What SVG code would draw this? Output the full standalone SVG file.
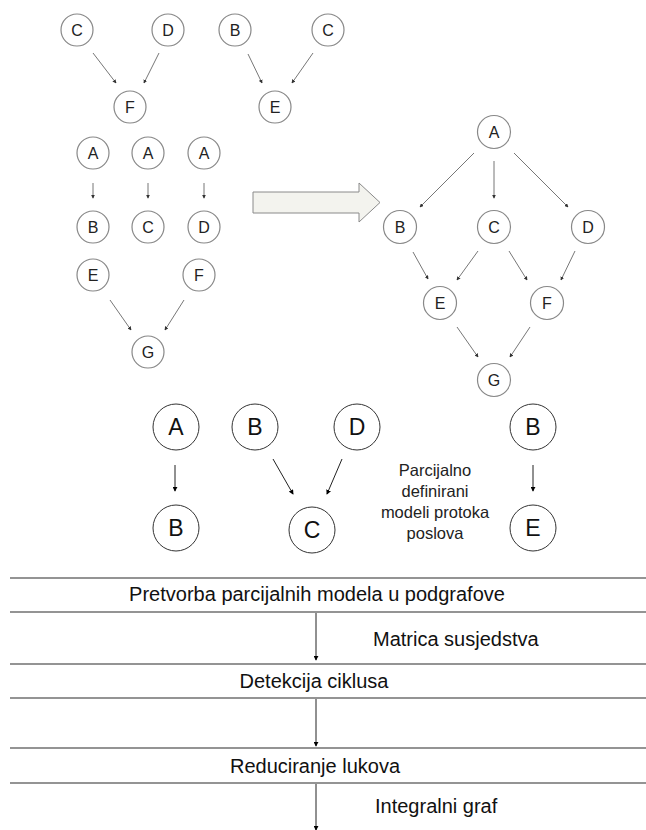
<svg xmlns="http://www.w3.org/2000/svg" width="646" height="830" viewBox="0 0 646 830">
<defs>
<marker id="ah" viewBox="0 0 6 6" refX="5" refY="3" markerWidth="4" markerHeight="4" markerUnits="userSpaceOnUse" orient="auto">
<path d="M0,0 L6,3 L0,6 z" fill="#333"/>
</marker>
<marker id="ahb" viewBox="0 0 6 6" refX="5" refY="3" markerWidth="5" markerHeight="5" markerUnits="userSpaceOnUse" orient="auto">
<path d="M0,0 L6,3 L0,6 z" fill="#000"/>
</marker>
</defs>
<style>
text{font-family:"Liberation Sans",Arial,sans-serif;fill:#222}
.n circle{fill:#fff;stroke:#888;stroke-width:1.2}
.n text{font-size:16px;text-anchor:middle}
.b circle{fill:#fff;stroke:#333;stroke-width:1}
.b text{font-size:23px;text-anchor:middle;fill:#111}
.e line{stroke:#777;stroke-width:1;marker-end:url(#ah)}
.eb line{stroke:#222;stroke-width:1;marker-end:url(#ahb)}
.hl{stroke:#707070;stroke-width:1.6}
.lbl{font-size:20px;fill:#111}
</style>
<rect width="646" height="830" fill="#fff"/>

<!-- top-left partial graphs -->
<g id="t1c" class="n"><circle cx="77" cy="30" r="16"/><text x="77" y="36">C</text></g>
<g id="t1d" class="n"><circle cx="168" cy="30" r="16"/><text x="168" y="36">D</text></g>
<g id="t1f" class="n"><circle cx="130" cy="107" r="16"/><text x="130" y="113">F</text></g>
<g id="t2b" class="n"><circle cx="235" cy="30" r="16"/><text x="235" y="36">B</text></g>
<g id="t2c" class="n"><circle cx="328" cy="30" r="16"/><text x="328" y="36">C</text></g>
<g id="t2e" class="n"><circle cx="275" cy="107" r="16"/><text x="275" y="113">E</text></g>

<g id="m1a" class="n"><circle cx="93" cy="153" r="16"/><text x="93" y="159">A</text></g>
<g id="m2a" class="n"><circle cx="148" cy="153" r="16"/><text x="148" y="159">A</text></g>
<g id="m3a" class="n"><circle cx="204" cy="153" r="16"/><text x="204" y="159">A</text></g>
<g id="m1b" class="n"><circle cx="93" cy="227" r="16"/><text x="93" y="233">B</text></g>
<g id="m2c" class="n"><circle cx="148" cy="227" r="16"/><text x="148" y="233">C</text></g>
<g id="m3d" class="n"><circle cx="204" cy="227" r="16"/><text x="204" y="233">D</text></g>
<g id="m4e" class="n"><circle cx="93" cy="275" r="16"/><text x="93" y="281">E</text></g>
<g id="m4f" class="n"><circle cx="199" cy="275" r="16"/><text x="199" y="281">F</text></g>
<g id="m4g" class="n"><circle cx="148" cy="352" r="16"/><text x="148" y="358">G</text></g>

<!-- big block arrow -->
<g id="bigArrow">
<path d="M253,192 L359,192 L359,183 L380,202.5 L359,222 L359,213 L253,213 Z" fill="#f3f3ee" stroke="#8a8a8a" stroke-width="1"/>
</g>

<!-- integrated graph -->
<g id="ia" class="n"><circle cx="494" cy="132" r="16.5"/><text x="494" y="138">A</text></g>
<g id="ib" class="n"><circle cx="400" cy="227" r="16.5"/><text x="400" y="233">B</text></g>
<g id="ic" class="n"><circle cx="494" cy="227" r="16.5"/><text x="494" y="233">C</text></g>
<g id="id" class="n"><circle cx="588" cy="227" r="16.5"/><text x="588" y="233">D</text></g>
<g id="ie" class="n"><circle cx="440" cy="303" r="16.5"/><text x="440" y="309">E</text></g>
<g id="if" class="n"><circle cx="547" cy="303" r="16.5"/><text x="547" y="309">F</text></g>
<g id="ig" class="n"><circle cx="494" cy="380" r="16.5"/><text x="494" y="386">G</text></g>

<!-- bottom partial models -->
<g id="pa" class="b"><circle cx="176" cy="427" r="23"/><text x="176" y="435">A</text></g>
<g id="pb1" class="b"><circle cx="176" cy="528" r="23"/><text x="176" y="536">B</text></g>
<g id="pb2" class="b"><circle cx="255" cy="427" r="23"/><text x="255" y="435">B</text></g>
<g id="pd" class="b"><circle cx="357" cy="427" r="23"/><text x="357" y="435">D</text></g>
<g id="pc" class="b"><circle cx="312" cy="530" r="23"/><text x="312" y="538">C</text></g>
<g id="pb3" class="b"><circle cx="533" cy="427" r="23"/><text x="533" y="435">B</text></g>
<g id="pe" class="b"><circle cx="533" cy="528" r="23"/><text x="533" y="536">E</text></g>

<g id="partialLabel" font-size="16.5" text-anchor="middle">
<text x="435" y="476">Parcijalno</text>
<text x="435" y="497">definirani</text>
<text x="435" y="518">modeli protoka</text>
<text x="435" y="539">poslova</text>
</g>

<!-- connectors -->
<g id="connectors">
<g class="e">
<line x1="93" y1="53" x2="116" y2="83"/>
<line x1="159" y1="53" x2="144" y2="83"/>
<line x1="248" y1="54" x2="262" y2="83"/>
<line x1="313" y1="53" x2="292" y2="83"/>
<line x1="93" y1="183" x2="93" y2="198"/>
<line x1="148" y1="183" x2="148" y2="198"/>
<line x1="204" y1="183" x2="204" y2="198"/>
<line x1="110" y1="300" x2="131" y2="330"/>
<line x1="184" y1="300" x2="165" y2="330"/>
<line x1="474" y1="153" x2="420" y2="207"/>
<line x1="494" y1="161" x2="494" y2="198"/>
<line x1="514" y1="153" x2="568" y2="207"/>
<line x1="413" y1="252" x2="428" y2="279"/>
<line x1="478" y1="251" x2="457" y2="280"/>
<line x1="509" y1="251" x2="527" y2="280"/>
<line x1="575" y1="251" x2="561" y2="280"/>
<line x1="457" y1="327" x2="478" y2="357"/>
<line x1="530" y1="327" x2="510" y2="357"/>
</g>
<g class="eb">
<line x1="175" y1="465" x2="175" y2="491"/>
<line x1="273" y1="459" x2="293" y2="494"/>
<line x1="342" y1="459" x2="327" y2="494"/>
<line x1="533" y1="465" x2="533" y2="491"/>
<line x1="316" y1="613" x2="316" y2="660"/>
<line x1="316" y1="699" x2="316" y2="746"/>
<line x1="316" y1="784" x2="316" y2="830"/>
</g>
</g>

<!-- process steps -->
<g id="steps">
<line class="hl" x1="10" y1="578" x2="646" y2="578"/>
<line class="hl" x1="10" y1="612" x2="646" y2="612"/>
<line class="hl" x1="10" y1="664" x2="646" y2="664"/>
<line class="hl" x1="10" y1="698" x2="646" y2="698"/>
<line class="hl" x1="10" y1="748" x2="646" y2="748" stroke="#000"/>
<line class="hl" x1="10" y1="783" x2="646" y2="783"/>
<text class="lbl" x="317" y="601" text-anchor="middle">Pretvorba parcijalnih modela u podgrafove</text>
<text class="lbl" x="373" y="646">Matrica susjedstva</text>
<text class="lbl" x="314" y="688" text-anchor="middle">Detekcija ciklusa</text>
<text class="lbl" x="315" y="773" text-anchor="middle">Reduciranje lukova</text>
<text class="lbl" x="375" y="813">Integralni graf</text>
</g>
</svg>
